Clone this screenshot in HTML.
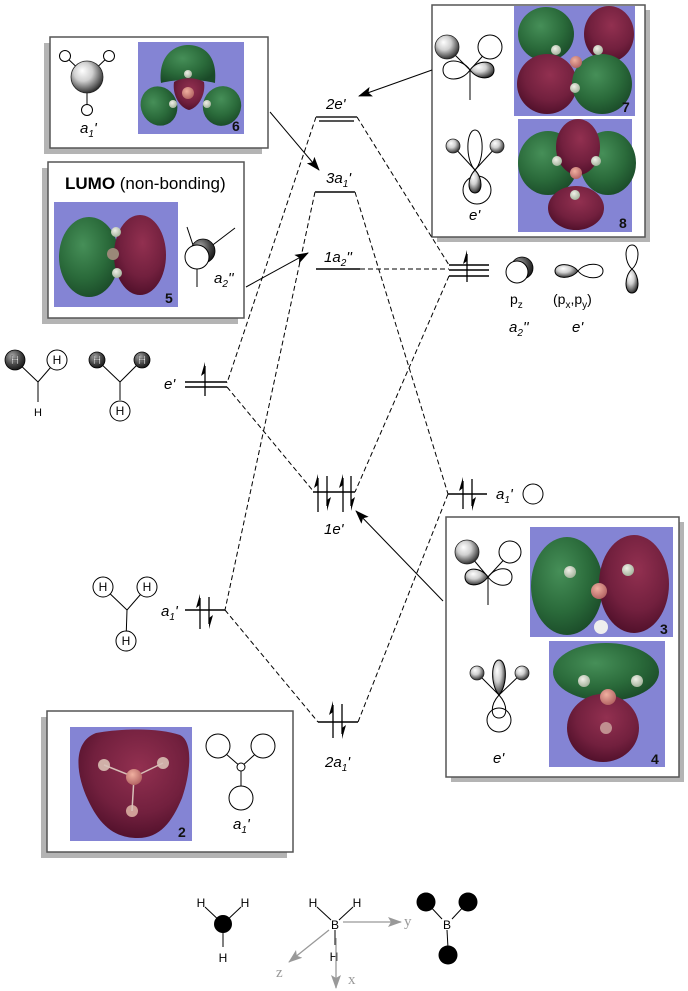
<!DOCTYPE html>
<html><head><meta charset="utf-8"><style>html,body{margin:0;padding:0;background:#fff}svg{display:block}</style></head>
<body>
<svg width="688" height="991" viewBox="0 0 688 991" xmlns="http://www.w3.org/2000/svg" font-family="'Liberation Sans', sans-serif">
<defs>
 <radialGradient id="sph" cx="0.42" cy="0.38" r="0.65" fx="0.35" fy="0.3">
  <stop offset="0" stop-color="#ffffff"/><stop offset="0.45" stop-color="#d0d0d0"/><stop offset="0.85" stop-color="#555"/><stop offset="1" stop-color="#222"/>
 </radialGradient>
 <radialGradient id="dk" cx="0.4" cy="0.35" r="0.7" fx="0.35" fy="0.3">
  <stop offset="0" stop-color="#aaa"/><stop offset="0.6" stop-color="#444"/><stop offset="1" stop-color="#111"/>
 </radialGradient>
 <radialGradient id="gr" cx="0.4" cy="0.35" r="0.7">
  <stop offset="0" stop-color="#468f58"/><stop offset="0.6" stop-color="#2a6a3a"/><stop offset="1" stop-color="#1a4a28"/>
 </radialGradient>
 <radialGradient id="rd" cx="0.55" cy="0.35" r="0.7">
  <stop offset="0" stop-color="#923050"/><stop offset="0.6" stop-color="#72203e"/><stop offset="1" stop-color="#4c0e28"/>
 </radialGradient>
 <radialGradient id="atB" cx="0.4" cy="0.35" r="0.7"><stop offset="0" stop-color="#f0b0a0"/><stop offset="1" stop-color="#b06060"/></radialGradient>
 <radialGradient id="atH" cx="0.4" cy="0.35" r="0.7"><stop offset="0" stop-color="#f0f0e8"/><stop offset="1" stop-color="#a0b098"/></radialGradient>
 <marker id="ah" markerWidth="14" markerHeight="10" refX="13" refY="5" orient="auto" markerUnits="userSpaceOnUse"><path d="M0,0 L14,5 L0,10 L3,5 Z" fill="#000"/></marker>
 <marker id="ga" markerWidth="14" markerHeight="10" refX="13" refY="5" orient="auto" markerUnits="userSpaceOnUse"><path d="M0,0 L14,5 L0,10 L3,5 Z" fill="#999"/></marker>
</defs>

<!-- ===== Boxes with shadows ===== -->
<rect x="44" y="43" width="218" height="111" fill="#b4b4b4"/>
<rect x="50" y="37" width="218" height="111" fill="#fff" stroke="#555" stroke-width="1.5"/>

<rect x="42" y="168" width="196" height="156" fill="#b4b4b4"/>
<rect x="48" y="162" width="196" height="156" fill="#fff" stroke="#555" stroke-width="1.5"/>

<rect x="437" y="10" width="213" height="232" fill="#b4b4b4"/>
<rect x="432" y="5" width="213" height="232" fill="#fff" stroke="#555" stroke-width="1.5"/>

<rect x="451" y="522" width="233" height="260" fill="#b4b4b4"/>
<rect x="446" y="517" width="233" height="260" fill="#fff" stroke="#555" stroke-width="1.5"/>

<rect x="41" y="717" width="246" height="141" fill="#b4b4b4"/>
<rect x="47" y="711" width="246" height="141" fill="#fff" stroke="#555" stroke-width="1.5"/>

<!-- ===== Orbital images ===== -->
<!-- 6 -->
<rect x="138" y="42" width="106" height="92" fill="#8484d4"/>
<path d="M161,83 C158,55 175,45 188,45 C203,45 218,55 215,83 C200,79 176,79 161,83 Z" fill="url(#gr)"/>
<ellipse cx="159" cy="106" rx="18" ry="20" transform="rotate(-25 159 106)" fill="url(#gr)"/>
<ellipse cx="222" cy="106" rx="19" ry="20" transform="rotate(25 222 106)" fill="url(#gr)"/>
<path d="M174,82 C182,77 196,77 204,82 C206,95 198,108 189,110 C180,108 172,95 174,82 Z" fill="url(#rd)"/>
<circle cx="188" cy="93" r="6" fill="url(#atB)"/>
<circle cx="188" cy="74" r="4" fill="url(#atH)"/>
<circle cx="173" cy="104" r="4" fill="url(#atH)"/>
<circle cx="207" cy="104" r="4" fill="url(#atH)"/>
<text x="232" y="131" font-size="14" font-weight="bold" fill="#111">6</text>

<!-- 5 -->
<rect x="54" y="202" width="124" height="105" fill="#8484d4"/>
<ellipse cx="89" cy="257" rx="30" ry="40" fill="url(#gr)"/>
<ellipse cx="140" cy="255" rx="26" ry="40" fill="url(#rd)"/>
<circle cx="116" cy="232" r="5" fill="url(#atH)"/>
<circle cx="113" cy="254" r="6" fill="#9a8878"/>
<circle cx="117" cy="273" r="5" fill="url(#atH)"/>
<text x="165" y="303" font-size="14" font-weight="bold" fill="#111">5</text>

<!-- 7 -->
<rect x="514" y="6" width="121" height="110" fill="#8484d4"/>
<ellipse cx="546" cy="34" rx="28" ry="27" fill="url(#gr)"/>
<ellipse cx="609" cy="34" rx="25" ry="28" fill="url(#rd)"/>
<ellipse cx="547" cy="84" rx="30" ry="30" fill="url(#rd)"/>
<ellipse cx="602" cy="84" rx="30" ry="30" fill="url(#gr)"/>
<circle cx="556" cy="50" r="5" fill="url(#atH)"/>
<circle cx="598" cy="50" r="5" fill="url(#atH)"/>
<circle cx="576" cy="62" r="6" fill="url(#atB)"/>
<circle cx="575" cy="88" r="5" fill="url(#atH)"/>
<text x="622" y="112" font-size="14" font-weight="bold" fill="#111">7</text>

<!-- 8 -->
<rect x="518" y="119" width="114" height="113" fill="#8484d4"/>
<ellipse cx="548" cy="163" rx="30" ry="32" fill="url(#gr)"/>
<ellipse cx="608" cy="163" rx="28" ry="32" fill="url(#gr)"/>
<ellipse cx="578" cy="147" rx="22" ry="28" fill="url(#rd)"/>
<ellipse cx="576" cy="208" rx="28" ry="22" fill="url(#rd)"/>
<circle cx="557" cy="161" r="5" fill="url(#atH)"/>
<circle cx="596" cy="161" r="5" fill="url(#atH)"/>
<circle cx="576" cy="173" r="6" fill="url(#atB)"/>
<circle cx="575" cy="195" r="5" fill="url(#atH)"/>
<text x="619" y="228" font-size="14" font-weight="bold" fill="#111">8</text>

<!-- 3 -->
<rect x="530" y="527" width="143" height="110" fill="#8484d4"/>
<ellipse cx="567" cy="586" rx="36" ry="49" fill="url(#gr)"/>
<ellipse cx="634" cy="584" rx="35" ry="49" fill="url(#rd)"/>
<circle cx="570" cy="572" r="6" fill="url(#atH)"/>
<circle cx="628" cy="570" r="6" fill="url(#atH)"/>
<circle cx="599" cy="591" r="8" fill="url(#atB)"/>
<circle cx="601" cy="627" r="7" fill="#eee"/>
<text x="660" y="634" font-size="14" font-weight="bold" fill="#111">3</text>

<!-- 4 -->
<rect x="549" y="641" width="116" height="126" fill="#8484d4"/>
<ellipse cx="606" cy="672" rx="53" ry="29" fill="url(#gr)"/>
<ellipse cx="603" cy="728" rx="36" ry="34" fill="url(#rd)"/>
<circle cx="584" cy="681" r="6" fill="url(#atH)"/>
<circle cx="637" cy="681" r="6" fill="url(#atH)"/>
<circle cx="608" cy="697" r="8" fill="url(#atB)"/>
<circle cx="606" cy="728" r="6" fill="#c09090"/>
<text x="651" y="764" font-size="14" font-weight="bold" fill="#111">4</text>

<!-- 2 -->
<rect x="70" y="727" width="122" height="114" fill="#8484d4"/>
<path d="M96,733 C125,728 160,728 180,735 C194,742 190,775 182,798 C172,822 160,838 138,838 C115,838 100,826 88,800 C76,775 72,742 96,733 Z" fill="url(#rd)"/>
<circle cx="104" cy="765" r="6" fill="#d0b0a8"/>
<circle cx="163" cy="763" r="6" fill="#d0b0a8"/>
<circle cx="132" cy="811" r="6" fill="#d0a098"/>
<line x1="134" y1="777" x2="104" y2="765" stroke="#d8c0b8" stroke-width="1.5"/>
<line x1="134" y1="777" x2="163" y2="763" stroke="#d8c0b8" stroke-width="1.5"/>
<line x1="134" y1="777" x2="132" y2="811" stroke="#d8c0b8" stroke-width="1.5"/>
<circle cx="134" cy="777" r="8" fill="url(#atB)"/>
<text x="178" y="837" font-size="14" font-weight="bold" fill="#111">2</text>

<!-- ===== Icons inside boxes ===== -->
<!-- box 6 icon -->
<g stroke="#000" stroke-width="1" fill="none">
 <line x1="87" y1="77" x2="65" y2="56"/><line x1="87" y1="77" x2="109" y2="56"/><line x1="87" y1="77" x2="87" y2="109"/>
</g>
<circle cx="87" cy="77" r="16" fill="url(#sph)" stroke="#222" stroke-width="0.8"/>
<circle cx="65" cy="56" r="5.5" fill="#fff" stroke="#000"/>
<circle cx="109" cy="56" r="5.5" fill="#fff" stroke="#000"/>
<circle cx="87" cy="110" r="5.5" fill="#fff" stroke="#000"/>
<text x="80" y="133" font-size="15" font-style="italic">a<tspan font-size="10" dy="4">1</tspan><tspan dy="-4">'</tspan></text>

<!-- LUMO text & icon -->
<text x="65" y="189" font-size="17"><tspan font-weight="bold">LUMO</tspan> (non-bonding)</text>
<g stroke="#000" stroke-width="1" fill="none">
 <line x1="197" y1="257" x2="187" y2="227"/><line x1="197" y1="257" x2="235" y2="228"/><line x1="197" y1="257" x2="197" y2="287"/>
</g>
<circle cx="203" cy="251" r="12" fill="url(#dk)" stroke="#000" stroke-width="0.8"/>
<circle cx="197" cy="257" r="12" fill="#fff" stroke="#000"/>
<text x="214" y="283" font-size="15" font-style="italic">a<tspan font-size="10" dy="4">2</tspan><tspan dy="-4">''</tspan></text>

<!-- box 7 icon -->
<g stroke="#000" stroke-width="1" fill="none">
 <line x1="470" y1="70" x2="447" y2="47"/><line x1="470" y1="70" x2="490" y2="48"/><line x1="470" y1="70" x2="470" y2="100"/>
 <path d="M470,70 C462,58 443,58 443,70 C443,82 462,82 470,70 Z"/>
</g>
<path d="M470,70 C478,59 494,60 494,70 C494,80 478,81 470,70 Z" fill="url(#sph)" stroke="#000"/>
<circle cx="447" cy="47" r="12" fill="url(#sph)" stroke="#222" stroke-width="0.8"/>
<circle cx="490" cy="47" r="12" fill="#fff" stroke="#000"/>

<!-- box 8 icon -->
<g stroke="#000" stroke-width="1" fill="none">
 <line x1="475" y1="170" x2="453" y2="146"/><line x1="475" y1="170" x2="497" y2="146"/>
 <circle cx="477" cy="190" r="14"/>
 <path d="M475,170 C465,160 466,130 475,130 C484,130 485,160 475,170 Z"/>
</g>
<path d="M475,170 C467,178 467,193 475,193 C483,193 483,178 475,170 Z" fill="url(#sph)" stroke="#000"/>
<circle cx="453" cy="146" r="7" fill="url(#sph)" stroke="#222" stroke-width="0.8"/>
<circle cx="497" cy="146" r="7" fill="url(#sph)" stroke="#222" stroke-width="0.8"/>
<text x="469" y="220" font-size="15" font-style="italic">e'</text>

<!-- box 3 icon -->
<g stroke="#000" stroke-width="1" fill="none">
 <line x1="488" y1="577" x2="467" y2="552"/><line x1="488" y1="577" x2="510" y2="553"/><line x1="488" y1="577" x2="488" y2="605"/>
 <path d="M488,577 C496,566 512,566 512,577 C512,588 496,588 488,577 Z"/>
</g>
<path d="M488,577 C480,566 465,567 465,577 C465,587 480,588 488,577 Z" fill="url(#sph)" stroke="#000"/>
<circle cx="467" cy="552" r="12" fill="url(#sph)" stroke="#222" stroke-width="0.8"/>
<circle cx="510" cy="552" r="11" fill="#fff" stroke="#000"/>

<!-- box 4 icon -->
<g stroke="#000" stroke-width="1" fill="none">
 <line x1="499" y1="695" x2="477" y2="673"/><line x1="499" y1="695" x2="522" y2="673"/>
 <circle cx="499" cy="720" r="12"/>
 <path d="M499,695 C490,705 490,718 499,718 C508,718 508,705 499,695 Z"/>
</g>
<path d="M499,695 C490,685 491,660 499,660 C507,660 508,685 499,695 Z" fill="url(#sph)" stroke="#000"/>
<circle cx="477" cy="673" r="7" fill="url(#sph)" stroke="#222" stroke-width="0.8"/>
<circle cx="522" cy="673" r="7" fill="url(#sph)" stroke="#222" stroke-width="0.8"/>
<text x="493" y="763" font-size="15" font-style="italic">e'</text>

<!-- box 2 icon -->
<g stroke="#000" stroke-width="1" fill="#fff">
 <line x1="241" y1="767" x2="218" y2="747"/><line x1="241" y1="767" x2="263" y2="747"/><line x1="241" y1="767" x2="241" y2="798"/>
 <circle cx="218" cy="746" r="12"/><circle cx="263" cy="746" r="12"/><circle cx="241" cy="798" r="12"/>
 <circle cx="241" cy="767" r="4"/>
</g>
<text x="233" y="829" font-size="15" font-style="italic">a<tspan font-size="10" dy="4">1</tspan><tspan dy="-4">'</tspan></text>

<!-- ===== Dashed correlation lines ===== -->
<g stroke="#000" stroke-width="1" stroke-dasharray="5,3" fill="none">
 <line x1="316" y1="117" x2="227" y2="383"/>
 <line x1="315" y1="192" x2="225" y2="610"/>
 <line x1="227" y1="387" x2="314" y2="492"/>
 <line x1="225" y1="610" x2="318" y2="722"/>
 <line x1="357" y1="117" x2="449" y2="265"/>
 <line x1="355" y1="192" x2="448" y2="494"/>
 <line x1="360" y1="269" x2="449" y2="269"/>
 <line x1="449" y1="276" x2="355" y2="492"/>
 <line x1="448" y1="494" x2="358" y2="722"/>
</g>

<!-- ===== Energy levels ===== -->
<g stroke-width="1.5" fill="none">
 <line x1="316" y1="117" x2="357" y2="117" stroke="#555" stroke-width="2"/>
 <line x1="319" y1="121" x2="354" y2="121" stroke="#555" stroke-width="2"/>
 <line x1="315" y1="192" x2="355" y2="192" stroke="#444" stroke-width="2"/>
 <line x1="316" y1="269" x2="360" y2="269" stroke="#000"/>
 <line x1="313" y1="492" x2="355" y2="492" stroke="#000"/>
 <line x1="318" y1="722" x2="358" y2="722" stroke="#000"/>
 <line x1="185" y1="382" x2="227" y2="382" stroke="#000"/>
 <line x1="185" y1="387" x2="227" y2="387" stroke="#000"/>
 <line x1="185" y1="610" x2="225" y2="610" stroke="#000"/>
 <line x1="448" y1="494" x2="487" y2="494" stroke="#000"/>
 <line x1="449" y1="265" x2="489" y2="265" stroke="#000"/>
 <line x1="449" y1="270" x2="489" y2="270" stroke="#000"/>
 <line x1="449" y1="276" x2="489" y2="276" stroke="#000"/>
</g>

<!-- electron arrows -->
<g stroke="#000" stroke-width="1.3" fill="#000">
 <line x1="205" y1="396" x2="205" y2="366"/><path d="M205,362 L201,376 L205,373 Z" stroke="none"/>
 <line x1="467" y1="282" x2="467" y2="254"/><path d="M467,250 L463,264 L467,261 Z" stroke="none"/>
 <line x1="318" y1="512" x2="318" y2="478"/><path d="M318,474 L314,488 L318,485 Z" stroke="none"/>
 <line x1="327" y1="476" x2="327" y2="506"/><path d="M327,511 L331,497 L327,500 Z" stroke="none"/>
 <line x1="343" y1="512" x2="343" y2="478"/><path d="M343,474 L339,488 L343,485 Z" stroke="none"/>
 <line x1="351" y1="476" x2="351" y2="506"/><path d="M351,511 L355,497 L351,500 Z" stroke="none"/>
 <line x1="463" y1="509" x2="463" y2="481"/><path d="M463,477 L459,491 L463,488 Z" stroke="none"/>
 <line x1="472" y1="479" x2="472" y2="506"/><path d="M472,511 L476,497 L472,500 Z" stroke="none"/>
 <line x1="200" y1="629" x2="200" y2="598"/><path d="M200,594 L196,608 L200,605 Z" stroke="none"/>
 <line x1="209" y1="597" x2="209" y2="624"/><path d="M209,629 L213,615 L209,618 Z" stroke="none"/>
 <line x1="333" y1="738" x2="333" y2="705"/><path d="M333,701 L329,715 L333,712 Z" stroke="none"/>
 <line x1="342" y1="704" x2="342" y2="734"/><path d="M342,739 L346,725 L342,728 Z" stroke="none"/>
</g>

<!-- ===== Level labels ===== -->
<g font-size="15" font-style="italic" fill="#000">
 <text x="326" y="109">2e'</text>
 <text x="326" y="183">3a<tspan font-size="10" dy="4">1</tspan><tspan dy="-4">'</tspan></text>
 <text x="324" y="262">1a<tspan font-size="10" dy="4">2</tspan><tspan dy="-4">''</tspan></text>
 <text x="324" y="534">1e'</text>
 <text x="325" y="767">2a<tspan font-size="10" dy="4">1</tspan><tspan dy="-4">'</tspan></text>
 <text x="164" y="389">e'</text>
 <text x="161" y="616">a<tspan font-size="10" dy="4">1</tspan><tspan dy="-4">'</tspan></text>
 <text x="496" y="499">a<tspan font-size="10" dy="4">1</tspan><tspan dy="-4">'</tspan></text>
 <text x="509" y="332">a<tspan font-size="10" dy="4">2</tspan><tspan dy="-4">''</tspan></text>
 <text x="572" y="332">e'</text>
</g>
<circle cx="533" cy="494" r="10" fill="#fff" stroke="#000"/>

<!-- ===== Right-side p orbitals ===== -->
<circle cx="522" cy="268" r="11" fill="url(#dk)" stroke="#000" stroke-width="0.8"/>
<circle cx="517" cy="272" r="11" fill="#fff" stroke="#000"/>
<text x="510" y="304" font-size="14">p<tspan font-size="10" dy="4">z</tspan></text>
<path d="M578,271 C571,262 555,263 555,271 C555,279 571,280 578,271 Z" fill="url(#sph)" stroke="#000"/>
<path d="M578,271 C585,262 603,262 603,271 C603,280 585,280 578,271 Z" fill="none" stroke="#000"/>
<text x="553" y="304" font-size="14">(p<tspan font-size="10" dy="4">x</tspan><tspan dy="-4">,p</tspan><tspan font-size="10" dy="4">y</tspan><tspan dy="-4">)</tspan></text>
<path d="M632,269 C624,262 624,245 632,245 C640,245 640,262 632,269 Z" fill="none" stroke="#000"/>
<path d="M632,269 C624,276 624,293 632,293 C640,293 640,276 632,269 Z" fill="url(#sph)" stroke="#000"/>

<!-- ===== H3 fragments (left) ===== -->
<g stroke="#000" stroke-width="1" fill="none">
 <line x1="38" y1="382" x2="15" y2="360"/><line x1="38" y1="382" x2="57" y2="360"/><line x1="38" y1="382" x2="38" y2="402"/>
 <line x1="120" y1="382" x2="97" y2="360"/><line x1="120" y1="382" x2="142" y2="360"/><line x1="120" y1="382" x2="120" y2="400"/>
</g>
<circle cx="15" cy="360" r="10" fill="url(#dk)" stroke="#000" stroke-width="0.8"/>
<circle cx="57" cy="360" r="10" fill="#fff" stroke="#000"/>
<circle cx="97" cy="360" r="8" fill="url(#dk)" stroke="#000" stroke-width="0.8"/>
<circle cx="142" cy="360" r="8" fill="url(#dk)" stroke="#000" stroke-width="0.8"/>
<circle cx="120" cy="411" r="10" fill="#fff" stroke="#000"/>
<g font-size="12" text-anchor="middle" fill="#000">
 <text x="15" y="364" fill="#fff" stroke="#000" stroke-width="0.3">H</text>
 <text x="57" y="364">H</text>
 <text x="38" y="416" font-size="11">H</text>
 <text x="97" y="364" fill="#fff" stroke="#000" stroke-width="0.3">H</text>
 <text x="142" y="364" fill="#fff" stroke="#000" stroke-width="0.3">H</text>
 <text x="120" y="415">H</text>
</g>

<!-- left a1' H3 -->
<g stroke="#000" stroke-width="1" fill="#fff">
 <line x1="127" y1="610" x2="103" y2="587"/><line x1="127" y1="610" x2="147" y2="587"/><line x1="127" y1="610" x2="126" y2="641"/>
 <circle cx="103" cy="587" r="10"/><circle cx="147" cy="587" r="10"/><circle cx="126" cy="641" r="10"/>
</g>
<g font-size="12" text-anchor="middle" fill="#000">
 <text x="103" y="591">H</text><text x="147" y="591">H</text><text x="126" y="645">H</text>
</g>

<!-- ===== Solid arrows ===== -->
<g stroke="#000" stroke-width="1" fill="none">
 <line x1="270" y1="112" x2="319" y2="170" marker-end="url(#ah)"/>
 <line x1="432" y1="70" x2="359" y2="96" marker-end="url(#ah)"/>
 <line x1="246" y1="287" x2="308" y2="253" marker-end="url(#ah)"/>
 <line x1="443" y1="601" x2="356" y2="511" marker-end="url(#ah)"/>
</g>

<!-- ===== Bottom axes ===== -->
<g stroke="#000" stroke-width="1">
 <line x1="223" y1="924" x2="205" y2="907"/><line x1="223" y1="924" x2="241" y2="907"/><line x1="223" y1="924" x2="223" y2="947"/>
 <line x1="331" y1="920" x2="317" y2="907"/><line x1="339" y1="920" x2="353" y2="907"/><line x1="335" y1="930" x2="335" y2="945"/>
 <line x1="442" y1="919" x2="428" y2="904"/><line x1="452" y1="919" x2="466" y2="904"/><line x1="447" y1="930" x2="448" y2="948"/>
</g>
<circle cx="223" cy="924" r="9" fill="#000"/>
<circle cx="426" cy="902" r="9.5" fill="#000"/>
<circle cx="468" cy="902" r="9.5" fill="#000"/>
<circle cx="448" cy="955" r="9.5" fill="#000"/>
<g font-size="12" text-anchor="middle" fill="#000">
 <text x="201" y="907">H</text><text x="245" y="907">H</text><text x="223" y="962">H</text>
 <text x="313" y="907">H</text><text x="357" y="907">H</text><text x="334" y="961">H</text>
 <text x="335" y="929">B</text>
 <text x="447" y="929">B</text>
</g>
<g stroke="#999" stroke-width="1.3" fill="none">
 <line x1="343" y1="922" x2="401" y2="922" marker-end="url(#ga)"/>
 <line x1="329" y1="930" x2="289" y2="962" marker-end="url(#ga)"/>
 <line x1="336" y1="938" x2="336" y2="988" marker-end="url(#ga)"/>
</g>
<g font-family="'Liberation Serif', serif" font-size="15" fill="#999">
 <text x="404" y="926">y</text>
 <text x="276" y="977">z</text>
 <text x="348" y="984">x</text>
</g>
</svg>
</body></html>
